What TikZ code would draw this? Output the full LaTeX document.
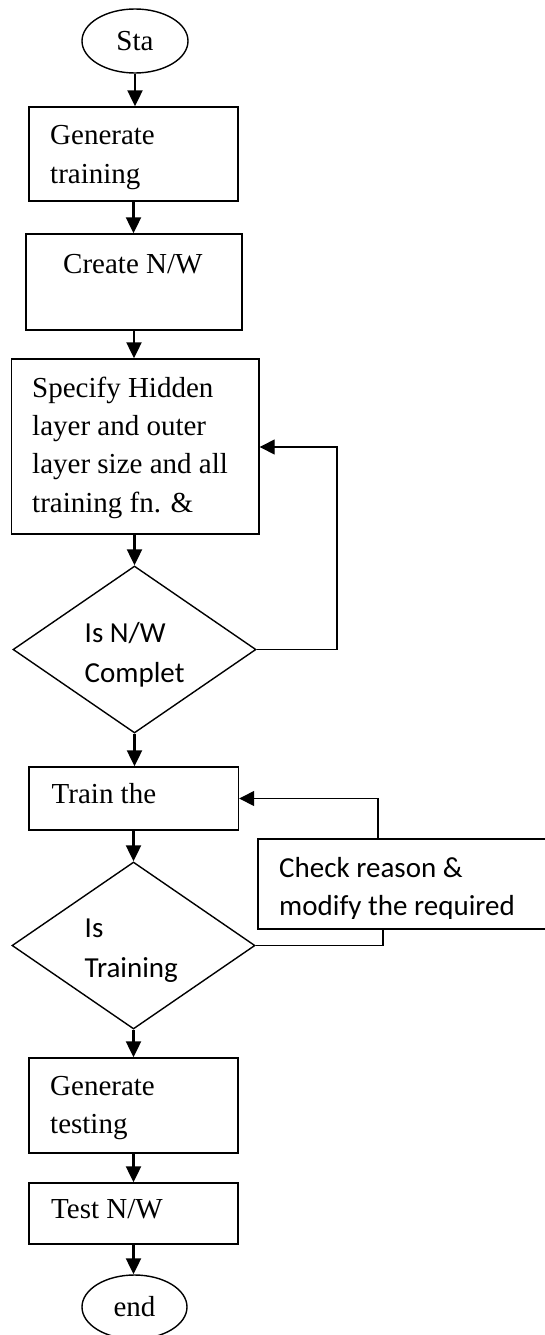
\documentclass[tikz,border=0pt]{standalone}
\usepackage{fontspec}
\setmainfont{Liberation Serif}
\newfontfamily\calib{Carlito}
\usetikzlibrary{arrows.meta,shapes.geometric}
\begin{document}
\begin{tikzpicture}[x=1pt,y=-1pt,
  box/.style={draw,line width=1.4pt,rectangle,inner sep=0},
  oval/.style={draw,line width=1.4pt,ellipse,inner sep=0,font=\fontsize{29}{38}\selectfont},
  dec/.style={draw,line width=1.4pt,diamond,inner sep=0},
  tms/.style={anchor=base west,inner sep=0,font=\fontsize{29}{38}\selectfont},
  cal/.style={anchor=base west,inner sep=0,font=\calib\fontsize{29}{38}\selectfont},
  arr/.style={line width=2.2pt,-{Triangle[length=16pt,width=15pt]}},
  loopline/.style={line width=1.4pt},
  looparr/.style={line width=1.4pt,-{Triangle[length=15pt,width=15pt]}}]
\useasboundingbox (0,0) rectangle (545,1335);
\clip (0,0) rectangle (545,1335);
% shapes
\node[oval,minimum width=106pt,minimum height=64pt] (sta) at (135,41) {Sta};
\node[box,minimum width=209pt,minimum height=94pt] (gen) at (133.5,154) {};
\node[box,minimum width=216pt,minimum height=96pt] (cre) at (134,282) {};
\node[box,minimum width=247.5pt,minimum height=175pt] (spec) at (135.25,446.5) {};
\node[dec,minimum width=243pt,minimum height=167pt] (d1) at (134.5,649.5) {};
\node[box,minimum width=209.5pt,minimum height=63pt] (train) at (133.75,798.5) {};
\node[dec,minimum width=243pt,minimum height=167pt] (d2) at (133.5,945.5) {};
\node[box,minimum width=400pt,minimum height=90pt] (chk) at (458,884) {};
\node[box,minimum width=209pt,minimum height=95pt] (gent) at (133.5,1105.5) {};
\node[box,minimum width=209pt,minimum height=61pt] (test) at (133.5,1213.5) {};
\node[oval,minimum width=105pt,minimum height=64pt] (end) at (134.5,1307) {end};
% texts
\node[tms] (t1a) at (50,145) {Generate};
\node[tms] (t1b) at (50,183) {training};
\node[tms] (t2) at (63,273) {Create N/W};
\node[tms] (t3a) at (32,397) {Specify Hidden};
\node[tms] (t3b) at (32,435) {layer and outer};
\node[tms] (t3c) at (32,473) {layer size and all};
\node[tms] (t3d) at (32,512) {training fn. \&};
\node[cal] (t4a) at (84.5,642) {Is N/W};
\node[cal] (t4b) at (84.5,682) {Complet};
\node[tms] (t5) at (51.5,803) {Train the};
\node[cal] (t6a) at (84.5,937) {Is};
\node[cal] (t6b) at (84.5,977) {Training};
\begin{scope}
\clip (258,839) rectangle (545,918.5);
\node[cal] (t7a) at (279,877) {Check reason \&};
\node[cal] (t7b) at (279,915) {modify the required};
\end{scope}
\node[tms] (t8a) at (50,1095) {Generate};
\node[tms] (t8b) at (50,1133) {testing};
\node[tms] (t9) at (51,1218) {Test N/W};
% connectors
\draw[arr] (sta.south) -- (sta.south |- gen.north);
\draw[arr] (gen.south) -- (gen.south |- cre.north);
\draw[arr] (cre.south) -- (cre.south |- spec.north);
\draw[arr] (spec.south -| d1.north) -- (d1.north);
\draw[arr] (d1.south) -- (d1.south |- train.north);
\draw[arr] (train.south -| d2.north) -- (d2.north);
\draw[arr] (d2.south) -- (d2.south |- gent.north);
\draw[arr] (gent.south) -- (gent.south |- test.north);
\draw[arr] (test.south) -- (test.south |- end.north);
\coordinate (l1) at (337,447);
\draw[looparr] (d1.east) -| (l1) -- (l1 -| spec.east);
\coordinate (l2a) at (383,929);
\coordinate (l2b) at (378,798.5);
\draw[loopline] (d2.east) -| (chk.south -| l2a);
\draw[looparr] (chk.north -| l2b) |- (train.east);
\end{tikzpicture}
\end{document}
